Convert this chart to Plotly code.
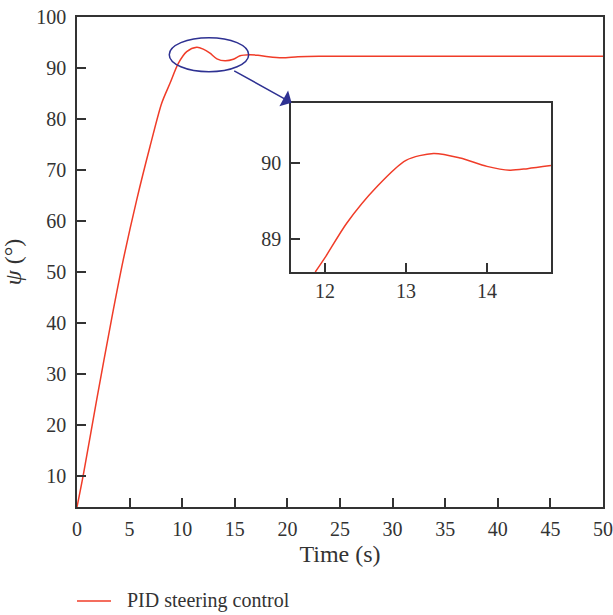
import plotly.graph_objects as go

# Main response data
main_t = [0, 0.6, 1.87, 3.3, 4.4, 5.67, 6.94, 8.05, 8.84, 9.63, 10.43, 11.38, 12.0, 12.64,
          13.3, 14.07, 14.86, 15.5, 16.4, 17.2, 18.2, 19.5, 21, 23, 30, 40, 50]
main_psi = [3.9, 10.2, 24.9, 40.9, 52.4, 64.1, 74.6, 83.1, 87.0, 90.9, 93.2, 94.05, 93.7, 92.9,
            91.8, 91.4, 91.7, 92.4, 92.6, 92.5, 92.2, 92.0, 92.2, 92.3, 92.3, 92.3, 92.3]

# Zoomed-in inset data
inset_t = [11.88, 12.0, 12.27, 12.64, 13.0, 13.34, 13.67, 14.0, 14.28, 14.5, 14.79]
inset_psi = [88.56, 88.75, 89.21, 89.69, 90.04, 90.13, 90.07, 89.96, 89.91, 89.93, 89.97]

x_ticks = [0, 5, 10, 15, 20, 25, 30, 35, 40, 45, 50]
y_ticks = [10, 20, 30, 40, 50, 60, 70, 80, 90, 100]
inset_x_ticks = [12, 13, 14]
inset_y_ticks = [89, 90]
series_name = "PID steering control"

FONT = "Liberation Serif"
RED = "#f03c28"
NAVY = "#2e3192"
AX = "#333333"

fig = go.Figure()
fig.add_trace(go.Scatter(x=main_t, y=main_psi, mode="lines",
                         line=dict(color=RED, width=1.5, shape="spline", smoothing=0.8),
                         name=series_name, showlegend=False))
fig.add_trace(go.Scatter(x=inset_t, y=inset_psi, mode="lines",
                         line=dict(color=RED, width=1.5, shape="spline", smoothing=0.8),
                         xaxis="x2", yaxis="y2", showlegend=False))

axis_common = dict(showline=True, linecolor=AX, linewidth=1.5, mirror=True, ticks="inside",
                   ticklen=9, tickwidth=1.5, tickcolor=AX, showgrid=False, zeroline=False,
                   automargin=False, ticklabeloverflow="allow",
                   tickfont=dict(family=FONT, size=20, color=AX))

fig.update_layout(
    width=613, height=615,
    margin=dict(l=77, r=10, t=17, b=108),
    paper_bgcolor="white", plot_bgcolor="white",
    font=dict(family=FONT, size=20, color=AX),
    xaxis=dict(range=[0, 50], tickvals=x_ticks, ticklabelstandoff=3,
               title=dict(text="Time (s)", standoff=6), **axis_common),
    yaxis=dict(range=[3.9, 100], tickvals=y_ticks, ticklabelstandoff=5,
               title=dict(text="<i>ψ</i> (°)", standoff=14), **axis_common),
    xaxis2=dict(domain=[0.4068, 0.9011], anchor="y2", range=[11.58, 14.79], tickvals=inset_x_ticks,
                ticklabelstandoff=0, **axis_common),
    yaxis2=dict(domain=[0.4796, 0.8245], anchor="x2", range=[88.56, 90.80], tickvals=inset_y_ticks,
                ticklabelstandoff=4, **axis_common),
    showlegend=False,
    shapes=[
        dict(type="rect", xref="x2 domain", yref="y2 domain", x0=0, x1=1, y0=0, y1=1,
             fillcolor="white", line=dict(width=0), layer="below"),
        dict(type="circle", xref="x", yref="y", x0=8.77, x1=16.32, y0=89.27, y1=95.94,
             line=dict(color=NAVY, width=1.5)),
        # legend sample line
        dict(type="line", xref="paper", yref="paper", x0=0.0, x1=0.0646, y0=-0.1918, y1=-0.1918,
             line=dict(color=RED, width=1.5)),
    ],
    annotations=[
        dict(x=20.4, y=83.2, ax=14.8, ay=89.6, xref="x", yref="y", axref="x", ayref="y",
             showarrow=True, arrowhead=1, arrowsize=2, arrowwidth=1.5, arrowcolor=NAVY, text=""),
        dict(x=0.0913, y=-0.1918, xref="paper", yref="paper", xanchor="left", yanchor="middle",
             text=series_name, showarrow=False, font=dict(family=FONT, size=20, color=AX)),
    ],
)

fig.write_html("out.html", config={"displayModeBar": False},
               post_script="document.body.style.margin='0px';document.body.style.overflow='hidden';")
